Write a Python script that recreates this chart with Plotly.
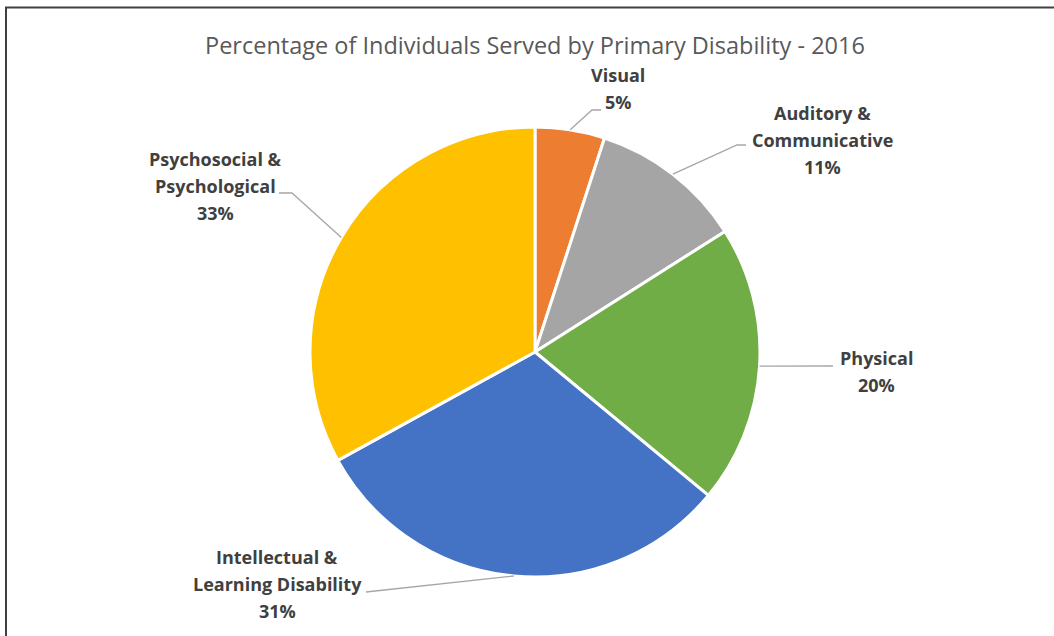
import math
import plotly.graph_objects as go

# ---- data ----
categories = ["Visual", "Auditory & Communicative", "Physical",
              "Intellectual & Learning Disability", "Psychosocial & Psychological"]
label_lines = [["Visual"], ["Auditory &", "Communicative"], ["Physical"],
               ["Intellectual &", "Learning Disability"], ["Psychosocial &", "Psychological"]]
values = [5, 11, 20, 31, 33]
colors = ["#ED7D31", "#A5A5A5", "#70AD47", "#4472C4", "#FFC000"]
title_text = "Percentage of Individuals Served by Primary Disability - 2016"

W, H = 1054, 636
CX, CY, R = 535, 352, 225

def px(x):
    return x / W

def py(y):
    return 1 - y / H

fig = go.Figure()
fig.add_trace(go.Pie(
    labels=categories, values=values, sort=False, direction="clockwise",
    rotation=0, textinfo="none", hoverinfo="label+percent",
    marker=dict(colors=colors, line=dict(color="white", width=3)),
    domain=dict(x=[px(CX - R), px(CX + R)], y=[py(CY + R), py(CY - R)]),
    showlegend=False,
))

# label placement (layout) : center x, first-line y, line step
label_pos = [(618, 75), (822, 113), (876, 358), (277, 557), (215, 159)]
step = 27
# leader elbows / ends (layout)
leaders = [
    [(592, 110), (601, 110)],
    [(737, 145), (746, 145)],
    [(833, 366)],
    [(366, 592)],
    [(292, 193), (279, 193)],
]

total = sum(values)
cum = 0
annotations = []
shapes = []
for i, v in enumerate(values):
    pct = round(100 * v / total)
    lines = label_lines[i] + [f"{pct}%"]
    lx, ly = label_pos[i]
    for k, t in enumerate(lines):
        annotations.append(dict(
            x=px(lx), y=py(ly + k * step), xref="paper", yref="paper",
            text=f"<b>{t}</b>", showarrow=False, xanchor="center", yanchor="middle",
            font=dict(family="Open Sans", size=18, color="#404040"),
        ))
    mid = (cum + v / 2) / total * 2 * math.pi
    cum += v
    sx = CX + R * math.sin(mid)
    sy = CY - R * math.cos(mid)
    pts = [(sx, sy)] + leaders[i]
    path = "M " + " L ".join(f"{px(a)},{py(b)}" for a, b in pts)
    shapes.append(dict(type="path", path=path, xref="paper", yref="paper",
                       line=dict(color="#A6A6A6", width=1.3)))

# frame
shapes.append(dict(type="line", xref="paper", yref="paper", x0=px(5), x1=1, y0=py(7.5), y1=py(7.5),
                   line=dict(color="#404040", width=2)))
shapes.append(dict(type="line", xref="paper", yref="paper", x0=px(6), x1=px(6), y0=py(7), y1=0,
                   line=dict(color="#404040", width=2)))

annotations.append(dict(
    x=px(535), y=py(45), xref="paper", yref="paper", text=title_text, showarrow=False,
    xanchor="center", yanchor="middle",
    font=dict(family="Open Sans", size=23.5, color="#595959"),
))

fig.update_layout(
    width=W, height=H, margin=dict(l=0, r=0, t=0, b=0),
    paper_bgcolor="white", plot_bgcolor="white",
    annotations=annotations, shapes=shapes,
)

fig.write_html("out.html")
